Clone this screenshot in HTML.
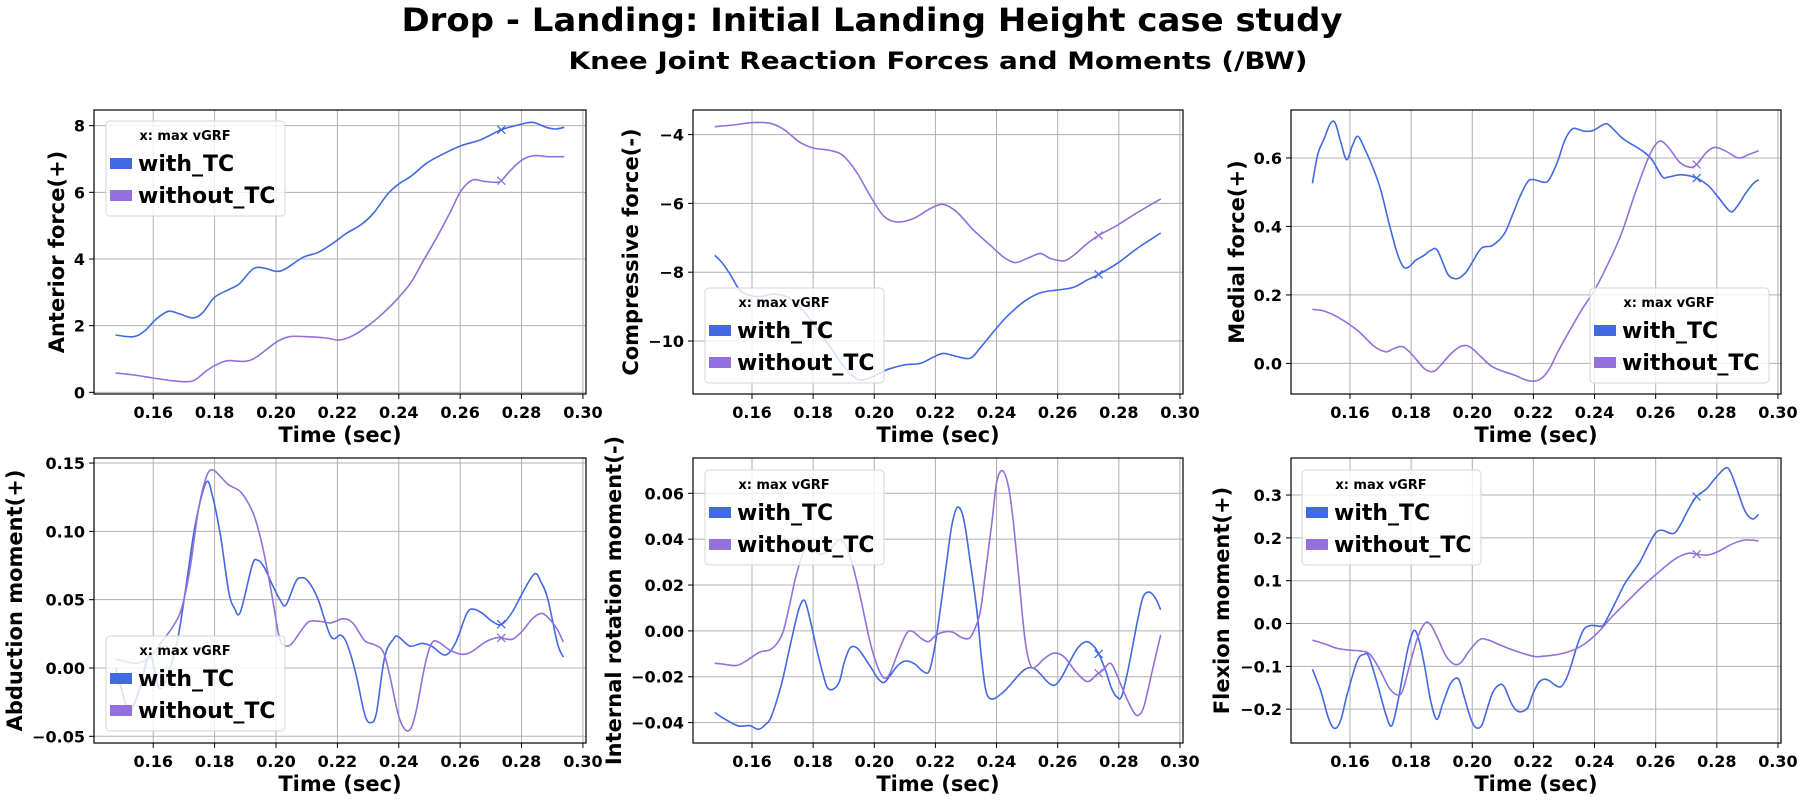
<!DOCTYPE html>
<html><head><meta charset="utf-8"><style>
html,body{margin:0;padding:0;background:#fff;}
svg{display:block;font-family:"DejaVu Sans","Liberation Sans",sans-serif;font-weight:bold;}
</style></head><body>
<svg id="fig" width="1800" height="800" viewBox="0 0 1800 800" xmlns="http://www.w3.org/2000/svg">
<text x="872" y="31" text-anchor="middle" font-size="32" textLength="941" lengthAdjust="spacingAndGlyphs">Drop - Landing: Initial Landing Height case study</text>
<text x="938" y="69" text-anchor="middle" font-size="24" textLength="739" lengthAdjust="spacingAndGlyphs">Knee Joint Reaction Forces and Moments (/BW)</text>
</svg>
<script>
// ---- shared data ----
const xTicks = [0.16,0.18,0.20,0.22,0.24,0.26,0.28,0.30];
const xTickLabels = ["0.16","0.18","0.20","0.22","0.24","0.26","0.28","0.30"];
const seriesNames = ["with_TC","without_TC"];
const maxVgrfTime = 0.2734;

// Panel 1: Anterior force
const p1WithT = [0.1477,0.1536,0.1573,0.161,0.1649,0.1687,0.173,0.1762,0.18,0.185,0.188,0.1925,0.196,0.20,0.203,0.2088,0.2138,0.219,0.2226,0.228,0.232,0.2364,0.240,0.2442,0.249,0.254,0.2603,0.2665,0.2732,0.278,0.2835,0.288,0.291,0.2939];
const p1WithV = [1.72,1.67,1.85,2.2,2.43,2.35,2.23,2.4,2.85,3.1,3.25,3.7,3.73,3.63,3.7,4.05,4.2,4.5,4.75,5.05,5.4,5.95,6.25,6.5,6.87,7.13,7.4,7.57,7.87,8.0,8.1,7.95,7.9,7.95];
const p1WoT = [0.1477,0.1536,0.16,0.166,0.171,0.1737,0.1774,0.1806,0.1843,0.19,0.1938,0.20,0.2044,0.21,0.2163,0.2207,0.225,0.23,0.2352,0.240,0.244,0.2477,0.2527,0.257,0.2603,0.264,0.2677,0.2715,0.2734,0.2765,0.2803,0.284,0.289,0.2939];
const p1WoV = [0.58,0.52,0.43,0.35,0.32,0.38,0.65,0.83,0.95,0.93,1.07,1.5,1.67,1.67,1.63,1.57,1.7,2.0,2.4,2.85,3.3,3.9,4.7,5.45,6.05,6.37,6.33,6.3,6.35,6.67,6.98,7.1,7.07,7.07];
const p1YTicks = [0,2,4,6,8];

// Panel 2: Compressive force
const p2WithT = [0.1478,0.150,0.1527,0.156,0.1592,0.1625,0.1669,0.1713,0.1756,0.180,0.1855,0.191,0.1953,0.1997,0.204,0.2095,0.215,0.2193,0.2226,0.227,0.2314,0.2346,0.239,0.2434,0.2489,0.2543,0.2598,0.2652,0.2696,0.2729,0.2794,0.2860,0.2937];
const p2WithV = [-7.51,-7.70,-8.04,-8.52,-8.67,-8.71,-8.64,-8.71,-9.0,-9.49,-10.16,-10.84,-11.13,-11.03,-10.84,-10.70,-10.65,-10.47,-10.36,-10.45,-10.50,-10.21,-9.73,-9.29,-8.86,-8.60,-8.52,-8.44,-8.23,-8.09,-7.75,-7.31,-6.86];
const p2WoT = [0.1478,0.1538,0.1603,0.1658,0.1702,0.1756,0.180,0.1855,0.1898,0.1942,0.1986,0.2029,0.2073,0.2128,0.2183,0.2226,0.227,0.2325,0.238,0.2423,0.2461,0.25,0.2543,0.2576,0.262,0.2652,0.2696,0.2734,0.2794,0.286,0.2937];
const p2WoV = [-3.77,-3.72,-3.65,-3.67,-3.84,-4.22,-4.39,-4.46,-4.61,-5.09,-5.77,-6.35,-6.54,-6.44,-6.15,-6.03,-6.25,-6.78,-7.22,-7.56,-7.72,-7.60,-7.46,-7.60,-7.67,-7.51,-7.17,-6.93,-6.64,-6.27,-5.87];
const p2YTicks = [-10,-8,-6,-4];

// Panel 3: Medial force
const p3WithT = [0.1477,0.1495,0.1515,0.1535,0.1551,0.157,0.1589,0.1608,0.1626,0.1651,0.1679,0.1701,0.1728,0.1755,0.1775,0.1793,0.1815,0.1843,0.1864,0.1886,0.1919,0.1941,0.1958,0.198,0.2004,0.2031,0.2067,0.2105,0.2133,0.2155,0.218,0.2198,0.2236,0.2253,0.228,0.2302,0.2326,0.2346,0.2367,0.2395,0.2433,0.245,0.2488,0.251,0.2553,0.2586,0.2621,0.2641,0.2684,0.2734,0.2772,0.2805,0.2844,0.2866,0.2893,0.292,0.2937];
const p3WithV = [0.526,0.612,0.655,0.699,0.703,0.646,0.595,0.636,0.663,0.621,0.563,0.505,0.408,0.320,0.282,0.282,0.301,0.316,0.330,0.330,0.262,0.248,0.250,0.267,0.301,0.337,0.345,0.379,0.437,0.485,0.529,0.537,0.529,0.539,0.592,0.650,0.684,0.684,0.678,0.680,0.699,0.694,0.660,0.646,0.623,0.597,0.546,0.544,0.551,0.541,0.519,0.485,0.444,0.458,0.495,0.526,0.536];
const p3WoT = [0.1477,0.1515,0.1558,0.1624,0.1679,0.1717,0.1745,0.1772,0.18,0.1843,0.1871,0.1892,0.1931,0.1963,0.1991,0.2029,0.2061,0.2094,0.2138,0.2171,0.2198,0.2226,0.2253,0.228,0.2313,0.2357,0.24,0.2444,0.2488,0.2532,0.2570,0.2597,0.2619,0.2646,0.2679,0.2712,0.2734,0.2767,0.2794,0.2827,0.2871,0.2904,0.2937];
const p3WoV = [0.158,0.153,0.136,0.097,0.050,0.034,0.044,0.049,0.029,-0.015,-0.024,-0.010,0.029,0.050,0.049,0.019,-0.007,-0.021,-0.034,-0.047,-0.052,-0.044,-0.015,0.034,0.087,0.155,0.214,0.291,0.379,0.495,0.587,0.636,0.649,0.626,0.587,0.573,0.581,0.617,0.631,0.621,0.600,0.610,0.621];
const p3YTicks = [0.0,0.2,0.4,0.6];

// Panel 4: Abduction moment
const p4WithT = [0.1478,0.1496,0.1523,0.1556,0.1589,0.1621,0.1655,0.1682,0.1709,0.1737,0.1773,0.1795,0.1819,0.1846,0.1864,0.1884,0.1922,0.1939,0.1961,0.1988,0.2013,0.2032,0.2064,0.2081,0.2103,0.2136,0.2179,0.2212,0.2234,0.2261,0.2289,0.2308,0.2327,0.2354,0.2382,0.2398,0.2436,0.2474,0.2507,0.2551,0.2584,0.2622,0.2644,0.2672,0.2705,0.2735,0.277,0.2808,0.2843,0.2863,0.2885,0.2917,0.2936];
const p4WithV = [0.0,-0.015,-0.032,-0.015,0.0095,-0.015,0.0,0.024,0.063,0.105,0.136,0.124,0.097,0.056,0.044,0.041,0.075,0.079,0.074,0.061,0.050,0.046,0.063,0.066,0.064,0.051,0.023,0.024,0.016,-0.005,-0.034,-0.040,-0.033,0.008,0.021,0.023,0.016,0.018,0.016,0.0095,0.018,0.040,0.043,0.040,0.034,0.032,0.041,0.057,0.069,0.063,0.051,0.018,0.008];
const p4WoT = [0.1478,0.1545,0.1589,0.1627,0.1666,0.1693,0.172,0.1748,0.1775,0.1795,0.1819,0.1846,0.1879,0.1901,0.1928,0.1955,0.1983,0.201,0.2026,0.2048,0.2081,0.2108,0.2147,0.2179,0.2218,0.225,0.2289,0.2321,0.2349,0.2371,0.2398,0.242,0.244,0.2458,0.2485,0.2507,0.2529,0.2567,0.2606,0.2638,0.2682,0.2715,0.2735,0.277,0.2802,0.2835,0.2865,0.289,0.2917,0.2936];
const p4WoV = [0.0066,0.0034,0.0083,0.019,0.031,0.044,0.073,0.117,0.141,0.145,0.140,0.134,0.130,0.124,0.112,0.090,0.058,0.023,0.017,0.017,0.027,0.034,0.034,0.033,0.036,0.033,0.020,0.017,0.012,-0.006,-0.034,-0.045,-0.044,-0.030,0.002,0.018,0.019,0.013,0.010,0.012,0.019,0.022,0.022,0.021,0.027,0.036,0.040,0.036,0.028,0.019];
const p4YTicks = [-0.05,0.00,0.05,0.10,0.15];

// Panel 5: Internal rotation moment
const p5WithT = [0.1478,0.1505,0.1554,0.1592,0.1614,0.1627,0.1645,0.1663,0.1696,0.1718,0.174,0.1756,0.1772,0.1789,0.1811,0.1830,0.1846,0.1866,0.1886,0.1901,0.192,0.194,0.1958,0.1991,0.2013,0.2032,0.2051,0.2079,0.2106,0.2133,0.216,0.218,0.2199,0.2221,0.2237,0.2254,0.2272,0.2292,0.2314,0.2336,0.2352,0.2366,0.2385,0.2418,0.2445,0.2478,0.25,0.2522,0.2544,0.2566,0.2588,0.261,0.2637,0.2665,0.2694,0.2719,0.2736,0.2758,0.2776,0.2794,0.2809,0.2829,0.2845,0.2864,0.288,0.29,0.292,0.2937];
const p5WithV = [-0.0355,-0.038,-0.0414,-0.0413,-0.0427,-0.0427,-0.0407,-0.0374,-0.0235,-0.0105,0.0026,0.0106,0.0132,0.0055,-0.0076,-0.0177,-0.0246,-0.0254,-0.0221,-0.0141,-0.0076,-0.0071,-0.0097,-0.0163,-0.0209,-0.0225,-0.0196,-0.0148,-0.0131,-0.0145,-0.0177,-0.0174,-0.0061,0.0142,0.0302,0.0462,0.0539,0.0491,0.0302,0.0084,-0.0134,-0.0265,-0.0298,-0.0272,-0.0235,-0.0185,-0.0163,-0.0163,-0.0189,-0.0221,-0.0238,-0.0209,-0.0141,-0.0076,-0.0047,-0.0068,-0.0105,-0.0177,-0.025,-0.0289,-0.0286,-0.0177,-0.0068,0.0063,0.015,0.0169,0.0142,0.0092];
const p5WoT = [0.1478,0.1505,0.1549,0.1581,0.1625,0.1658,0.1682,0.1702,0.1723,0.1745,0.1773,0.1805,0.1827,0.1855,0.1877,0.1898,0.1926,0.1953,0.1986,0.2013,0.2033,0.2051,0.2079,0.2106,0.2126,0.215,0.2177,0.2204,0.2237,0.2259,0.2286,0.2311,0.233,0.2347,0.2363,0.2385,0.2401,0.242,0.244,0.2456,0.2473,0.2494,0.2513,0.2533,0.2555,0.2588,0.262,0.2659,0.2697,0.2729,0.2746,0.2771,0.2789,0.2816,0.2844,0.2862,0.2882,0.2909,0.2937];
const p5WoV = [-0.0141,-0.0145,-0.0151,-0.0131,-0.0093,-0.0083,-0.0054,-0.0003,0.0113,0.0244,0.0353,0.0346,0.0334,0.0353,0.039,0.039,0.0302,0.0157,-0.0047,-0.0163,-0.0206,-0.0185,-0.009,-0.001,-0.0003,-0.0029,-0.0047,-0.0017,-0.0003,-0.0007,-0.0029,-0.0032,0.0012,0.0084,0.0244,0.0477,0.0651,0.0698,0.0622,0.0462,0.023,-0.0047,-0.0156,-0.0151,-0.0122,-0.0097,-0.0112,-0.0177,-0.0221,-0.0189,-0.0174,-0.0141,-0.0177,-0.0265,-0.0344,-0.0369,-0.033,-0.0177,-0.0017];
const p5YTicks = [-0.04,-0.02,0.00,0.02,0.04,0.06];

// Panel 6: Flexion moment
const p6WithT = [0.1477,0.1504,0.1531,0.1551,0.157,0.1591,0.1624,0.1646,0.1662,0.169,0.1717,0.1736,0.1755,0.1777,0.1793,0.181,0.1826,0.1845,0.1864,0.1884,0.1903,0.1925,0.1941,0.1957,0.1976,0.1996,0.2012,0.2031,0.205,0.2067,0.2089,0.2105,0.2127,0.2143,0.216,0.2182,0.2198,0.2217,0.2236,0.2253,0.2269,0.2289,0.2307,0.2323,0.2343,0.2364,0.2384,0.2406,0.2427,0.2449,0.2471,0.2498,0.252,0.2548,0.257,0.2597,0.2619,0.2657,0.2679,0.2706,0.2733,0.2766,0.2788,0.2824,0.2842,0.2864,0.2892,0.2917,0.2936];
const p6WithV = [-0.107,-0.157,-0.224,-0.245,-0.225,-0.165,-0.087,-0.072,-0.078,-0.142,-0.212,-0.239,-0.188,-0.103,-0.048,-0.016,-0.040,-0.103,-0.181,-0.224,-0.188,-0.146,-0.130,-0.132,-0.177,-0.224,-0.243,-0.238,-0.196,-0.161,-0.143,-0.148,-0.185,-0.202,-0.206,-0.196,-0.165,-0.138,-0.130,-0.134,-0.143,-0.148,-0.130,-0.099,-0.052,-0.015,-0.005,-0.005,-0.005,0.022,0.053,0.092,0.115,0.143,0.174,0.209,0.218,0.210,0.228,0.265,0.296,0.314,0.333,0.361,0.358,0.318,0.263,0.244,0.255];
const p6WoT = [0.1477,0.1515,0.1558,0.1597,0.1651,0.1673,0.17,0.1728,0.1755,0.1772,0.1793,0.1821,0.1846,0.1864,0.1886,0.1914,0.1941,0.1963,0.1990,0.2023,0.205,0.2094,0.2149,0.2204,0.2236,0.228,0.2323,0.2367,0.2411,0.2455,0.2498,0.2553,0.2608,0.2662,0.2706,0.2733,0.2771,0.2804,0.2848,0.2891,0.2936];
const p6WoV = [-0.039,-0.047,-0.058,-0.062,-0.066,-0.079,-0.111,-0.150,-0.167,-0.157,-0.103,-0.033,0.001,-0.003,-0.033,-0.076,-0.095,-0.091,-0.064,-0.038,-0.038,-0.051,-0.066,-0.077,-0.076,-0.072,-0.064,-0.048,-0.021,0.014,0.045,0.084,0.119,0.150,0.164,0.162,0.160,0.168,0.185,0.195,0.193];
const p6YTicks = [-0.2,-0.1,0.0,0.1,0.2,0.3];

const panels = [
 {name:"anterior-force",ylabel:"Anterior force(+)",L:94,T:110,W:492,H:284,ylim:[-0.05,8.47],yt:p1YTicks,dec:0,ylx:56,wt:p1WithT,wv:p1WithV,ot:p1WoT,ov:p1WoV,leg:[106,121]},
 {name:"compressive-force",ylabel:"Compressive force(-)",L:693,T:110,W:490,H:284,ylim:[-11.54,-3.285],yt:p2YTicks,dec:0,ylx:630,wt:p2WithT,wv:p2WithV,ot:p2WoT,ov:p2WoV,leg:[705,288]},
 {name:"medial-force",ylabel:"Medial force(+)",L:1291,T:110,W:490,H:284,ylim:[-0.0893,0.740],yt:p3YTicks,dec:1,ylx:1236,wt:p3WithT,wv:p3WithV,ot:p3WoT,ov:p3WoV,leg:[1590,288]},
 {name:"abduction-moment",ylabel:"Abduction moment(+)",L:94,T:458,W:492,H:285,ylim:[-0.0549,0.1537],yt:p4YTicks,dec:2,ylx:14,wt:p4WithT,wv:p4WithV,ot:p4WoT,ov:p4WoV,leg:[106,636]},
 {name:"internal-rotation-moment",ylabel:"Internal rotation moment(-)",L:693,T:458,W:490,H:285,ylim:[-0.0489,0.0754],yt:p5YTicks,dec:2,ylx:613,wt:p5WithT,wv:p5WithV,ot:p5WoT,ov:p5WoV,leg:[705,470]},
 {name:"flexion-moment",ylabel:"Flexion moment(+)",L:1291,T:458,W:490,H:285,ylim:[-0.279,0.3865],yt:p6YTicks,dec:1,ylx:1221,wt:p6WithT,wv:p6WithV,ot:p6WoT,ov:p6WoV,leg:[1302,470]}
];
const XMIN=0.1407, XMAX=0.3010;
const colors=["#4169e1","#9370db"];
const NS="http://www.w3.org/2000/svg";
const svg=document.getElementById("fig");
function mk(tag,attrs,parent){const e=document.createElementNS(NS,tag);for(const k in attrs)e.setAttribute(k,attrs[k]);(parent||svg).appendChild(e);return e;}
function fmt(v,d){let s=Math.abs(v)<1e-9?(0).toFixed(d):v.toFixed(d);return s.replace("-","\u2212");}
function interp(ts,vs,t){for(let i=0;i<ts.length-1;i++){if(t>=ts[i]&&t<=ts[i+1]){const f=(t-ts[i])/(ts[i+1]-ts[i]);return vs[i]+f*(vs[i+1]-vs[i]);}}return vs[vs.length-1];}
function smoothPath(pts){
  let d="M"+pts[0][0].toFixed(1)+","+pts[0][1].toFixed(1);
  for(let i=0;i<pts.length-1;i++){
    const p0=pts[Math.max(0,i-1)],p1=pts[i],p2=pts[i+1],p3=pts[Math.min(pts.length-1,i+2)];
    const c1x=p1[0]+(p2[0]-p0[0])/6,c1y=p1[1]+(p2[1]-p0[1])/6;
    const c2x=p2[0]-(p3[0]-p1[0])/6,c2y=p2[1]-(p3[1]-p1[1])/6;
    d+=` C${c1x.toFixed(1)},${c1y.toFixed(1)} ${c2x.toFixed(1)},${c2y.toFixed(1)} ${p2[0].toFixed(1)},${p2[1].toFixed(1)}`;
  }
  return d;
}

panels.forEach(p=>{
  const g=mk("g",{});
  
  
  const sx=t=>p.L+(t-XMIN)/(XMAX-XMIN)*p.W;
  const sy=v=>p.T+p.H-(v-p.ylim[0])/(p.ylim[1]-p.ylim[0])*p.H;
  const B=p.T+p.H;
  xTicks.forEach((t,i)=>{
    const x=sx(t);
    const gl=mk("line",{x1:x,x2:x,y1:p.T,y2:B,stroke:"#b0b0b0","stroke-width":1},g);
    
    
    mk("line",{x1:x,x2:x,y1:B,y2:B+5,stroke:"#000","stroke-width":1},g);
    const tl=mk("text",{x:x,y:B+24,"text-anchor":"middle","font-size":16},g);
    tl.textContent=xTickLabels[i];
    
    
  });
  p.yt.forEach(v=>{
    const y=sy(v);
    const gl=mk("line",{x1:p.L,x2:p.L+p.W,y1:y,y2:y,stroke:"#b0b0b0","stroke-width":1},g);
    
    
    mk("line",{x1:p.L-5,x2:p.L,y1:y,y2:y,stroke:"#000","stroke-width":1},g);
    const tl=mk("text",{x:p.L-9,y:y+6,"text-anchor":"end","font-size":16},g);
    tl.textContent=fmt(v,p.dec);
    
    
  });
  const sers=[[p.wt,p.wv],[p.ot,p.ov]];
  sers.forEach((s,k)=>{
    const pts=s[0].map((t,i)=>[sx(t),sy(s[1][i])]);
    const pa=mk("path",{d:smoothPath(pts),fill:"none",stroke:colors[k],"stroke-width":1.6,"stroke-linejoin":"round"},g);
    
    
    const mx=sx(maxVgrfTime), my=sy(interp(s[0],s[1],maxVgrfTime));
    const m=mk("path",{d:`M${mx-4},${my-4}L${mx+4},${my+4}M${mx-4},${my+4}L${mx+4},${my-4}`,stroke:colors[k],"stroke-width":1.3},g);
    
    
  });
  const sp=mk("rect",{x:p.L,y:p.T,width:p.W,height:p.H,fill:"none",stroke:"#000","stroke-width":1.2},g);
  
  
  const xl=mk("text",{x:p.L+p.W/2,y:B+48,"text-anchor":"middle","font-size":21},g);
  xl.textContent="Time (sec)";
  
  
  const cy=p.T+p.H/2;
  const yl=mk("text",{x:p.ylx,y:cy,"text-anchor":"middle","font-size":21,transform:`rotate(-90 ${p.ylx} ${cy}) translate(0 8)`},g);
  yl.textContent=p.ylabel;
  
  
  const [lx,ly]=p.leg;
  const lg=mk("g",{},g);
  
  
  mk("rect",{x:lx,y:ly,width:179,height:95,rx:4,fill:"rgba(255,255,255,0.8)",stroke:"#d6d6d6","stroke-width":1},lg);
  const lt=mk("text",{x:lx+79,y:ly+19,"text-anchor":"middle","font-size":13},lg);
  lt.textContent="x: max vGRF";
  
  
  seriesNames.forEach((n,k)=>{
    const yy=ly+42+k*32;
    const pr=mk("rect",{x:lx+4,y:yy-5,width:22,height:11,fill:colors[k]},lg);
    
    
    const tx=mk("text",{x:lx+32,y:yy+8,"font-size":22},lg);
    tx.textContent=n;
    
    
  });
});
</script>
</body></html>
